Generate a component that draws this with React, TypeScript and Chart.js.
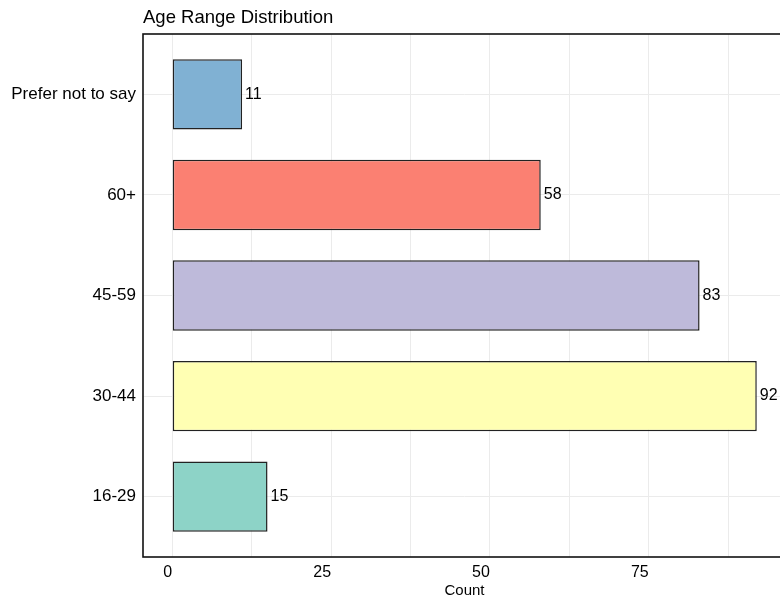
import React, { useEffect, useRef } from "react";
import { Chart, registerables } from "chart.js";

Chart.register(...registerables);

const categories = ["16-29", "30-44", "45-59", "60+", "Prefer not to say"];
const counts = [15, 92, 83, 58, 11];
const barColors = ["#8DD3C7", "#FFFFB3", "#BEBADA", "#FB8072", "#80B1D3"];
const xTickValues = [0, 12.5, 25, 37.5, 50, 62.5, 75, 87.5];
const xLabelEvery = 25;
const chartTitle = "Age Range Distribution";
const xAxisTitle = "Count";

const FONT = "'Liberation Sans', Arial, Helvetica, sans-serif";

export default function App() {
  const ref = useRef<HTMLCanvasElement | null>(null);

  useEffect(() => {
    const canvas = ref.current;
    if (!canvas) return;
    const maxVal = Math.max(...counts);
    const pad = maxVal * 0.05;

    const panelPlugin = {
      id: "panel",
      afterDatasetsDraw(chart: any) {
        const { ctx, chartArea } = chart;
        const meta = chart.getDatasetMeta(0);
        ctx.save();
        ctx.font = `16px ${FONT}`;
        ctx.fillStyle = "#000";
        ctx.textAlign = "left";
        ctx.textBaseline = "middle";
        meta.data.forEach((bar: any, i: number) => {
          ctx.fillText(String(counts[i]), bar.x + 3, bar.y);
        });
        ctx.lineWidth = 1.6;
        ctx.strokeStyle = "#111";
        ctx.strokeRect(
          chartArea.left,
          chartArea.top,
          chartArea.right - chartArea.left,
          chartArea.bottom - chartArea.top
        );
        ctx.font = `18.5px ${FONT}`;
        ctx.textBaseline = "alphabetic";
        ctx.fillText(chartTitle, chartArea.left, 23);
        ctx.restore();
      },
    };

    const chart = new Chart(canvas, {
      type: "bar",
      data: {
        datasets: [
          {
            data: counts.map((v, i) => ({ x: v, y: i + 1 })) as any,
            backgroundColor: barColors,
            borderColor: "#222",
            borderWidth: 1.5,
            borderSkipped: false,
            categoryPercentage: 1,
            barPercentage: 0.7,
          },
        ],
      },
      options: {
        indexAxis: "y",
        animation: false,
        responsive: false,
        events: [],
        layout: { padding: { top: 34, right: 14, bottom: 0, left: 0 } },
        plugins: {
          legend: { display: false },
          tooltip: { enabled: false },
          title: { display: false },
        },
        scales: {
          x: {
            type: "linear",
            min: -pad,
            max: maxVal + pad,
            offset: false,
            afterBuildTicks(scale: any) {
              scale.ticks = xTickValues.map((v) => ({ value: v }));
            },
            afterFit(scale: any) {
              scale.height = 45;
            },
            grid: { color: "#ebebeb", drawTicks: false, lineWidth: 1, offset: false },
            border: { display: false },
            ticks: {
              align: "end",
              padding: 6,
              color: "#000",
              font: { family: FONT, size: 16 },
              maxRotation: 0,
              autoSkip: false,
              callback: (v: any) => (Number(v) % xLabelEvery === 0 ? String(v) : ""),
            },
            title: {
              display: true,
              text: xAxisTitle,
              color: "#000",
              font: { family: FONT, size: 15 },
              padding: { top: 0, bottom: 2 },
            },
          },
          y: {
            type: "linear",
            min: 0.4,
            max: categories.length + 0.6,
            offset: false,
            afterBuildTicks(scale: any) {
              scale.ticks = categories.map((_, i) => ({ value: i + 1 }));
            },
            afterFit(scale: any) {
              scale.width = 143;
            },
            grid: { color: "#ebebeb", drawTicks: false, lineWidth: 1, offset: false },
            border: { display: false },
            ticks: {
              padding: 7,
              color: "#000",
              font: { family: FONT, size: 17 },
              autoSkip: false,
              callback: (v: any) => categories[Math.round(Number(v)) - 1] ?? "",
            },
          },
        },
      },
      plugins: [panelPlugin],
    });
    return () => chart.destroy();
  }, []);

  return (
    <div
      style={{
        position: "fixed",
        left: 0,
        top: 0,
        width: 780,
        height: 602,
        overflow: "hidden",
        background: "#fff",
      }}
    >
      <canvas ref={ref} width={800} height={602} style={{ display: "block" }} />
    </div>
  );
}
